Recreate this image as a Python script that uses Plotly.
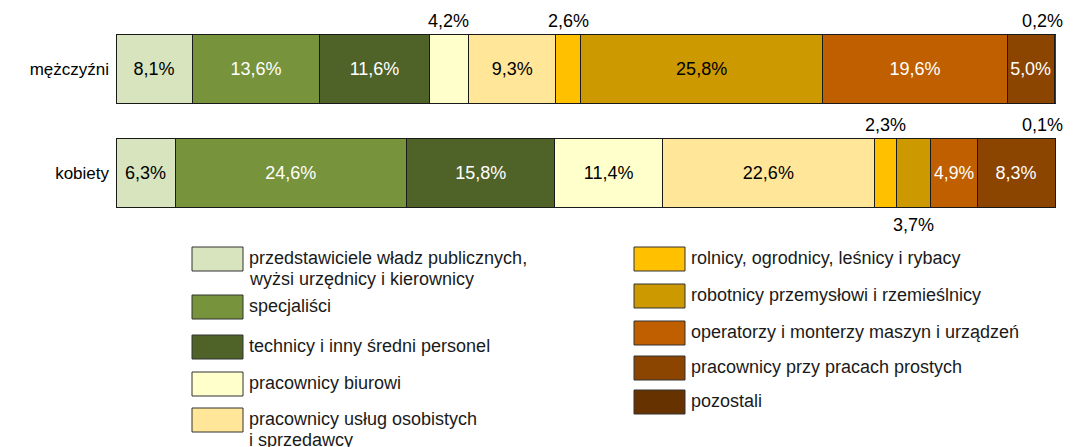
import plotly.graph_objects as go

groups = ["kobiety", "mężczyźni"]
categories = [
    "przedstawiciele władz publicznych,<br>wyżsi urzędnicy i kierownicy",
    "specjaliści",
    "technicy i inny średni personel",
    "pracownicy biurowi",
    "pracownicy usług osobistych<br>i sprzedawcy",
    "rolnicy, ogrodnicy, leśnicy i rybacy",
    "robotnicy przemysłowi i rzemieślnicy",
    "operatorzy i monterzy maszyn i urządzeń",
    "pracownicy przy pracach prostych",
    "pozostali",
]
kobiety = [6.3, 24.6, 15.8, 11.4, 22.6, 2.3, 3.7, 4.9, 8.3, 0.1]
mezczyzni = [8.1, 13.6, 11.6, 4.2, 9.3, 2.6, 25.8, 19.6, 5.0, 0.2]

colors = ["#D7E4BD", "#77933C", "#4F6228", "#FFFFCC", "#FFE699",
          "#FFC000", "#CC9900", "#BF5F00", "#8B4500", "#663300"]
text_colors = ["black", "white", "white", "black", "black",
               "black", "black", "white", "white", "white"]

# labels drawn outside the bar: (group, category index, position)
outside = [("mężczyźni", 3, "above"), ("mężczyźni", 5, "above"), ("mężczyźni", 9, "above"),
           ("kobiety", 5, "above"), ("kobiety", 6, "below"), ("kobiety", 9, "above")]

FONT = "Liberation Sans, Arial, sans-serif"
FS = 18
OFF = 8  # page body margin
W, H = 1076 - OFF, 447 - OFF
# plot area in screen pixels: x 116..1056, y 34..208
L, T = 116 - OFF, 34 - OFF
R = W - (1056 - OFF)
B = H - (208 - OFF)

def fmt(v):
    return f"{v:.1f}".replace(".", ",") + "%"

fig = go.Figure()
vals_by_group = {"kobiety": kobiety, "mężczyźni": mezczyzni}
outside_set = {(g, i) for g, i, _ in outside}
for i, cat in enumerate(categories):
    xs = [vals_by_group[g][i] for g in groups]
    texts = ["" if (g, i) in outside_set else fmt(vals_by_group[g][i]) for g in groups]
    fig.add_trace(go.Bar(
        y=groups, x=xs, orientation="h", name=cat,
        marker=dict(color=colors[i], line=dict(color="#1a1a1a", width=1)),
        text=texts, textposition="inside", insidetextanchor="middle", textangle=0,
        textfont=dict(color=text_colors[i], size=FS, family=FONT),
        width=0.667, showlegend=False, hoverinfo="skip",
    ))

annotations = []
for g, i, pos in outside:
    vals = vals_by_group[g]
    center = sum(vals[:i]) + vals[i] / 2
    last = i == len(vals) - 1
    annotations.append(dict(
        x=sum(vals) if last else center, y=g, xref="x", yref="y",
        text=fmt(vals[i]), showarrow=False,
        xanchor="right" if last else "center",
        yshift=48 if pos == "above" else -52,
        xshift=9 if last else 0,
        font=dict(size=FS, color="black", family=FONT),
    ))

# manual two-column legend (screen pixel positions)
pw, ph = W - L - R, H - T - B
def px(x):
    return (x - OFF - L) / pw
def py(y):
    return (H - B - (y - OFF)) / ph

left_rows = [247, 295, 335, 372, 408]
right_rows = [247, 284, 321, 356, 390]
shapes = []
for i, cat in enumerate(categories):
    if i < 5:
        bx, top = 192, left_rows[i]
    else:
        bx, top = 634, right_rows[i - 5]
    shapes.append(dict(type="rect", xref="paper", yref="paper",
                       x0=px(bx), x1=px(bx + 51), y0=py(top + 24), y1=py(top),
                       fillcolor=colors[i], line=dict(color="#333333", width=1)))
    for k, line in enumerate(cat.split("<br>")):
        annotations.append(dict(
            x=px(bx + 55), y=py(top + 11 + 21 * k), xref="paper", yref="paper",
            xanchor="left", yanchor="middle", align="left", text=line, showarrow=False,
            font=dict(size=FS, color="#1a1a1a", family=FONT),
        ))

fig.update_layout(
    barmode="stack", width=W, height=H,
    margin=dict(l=L, r=R, t=T, b=B, autoexpand=False),
    paper_bgcolor="white", plot_bgcolor="white",
    xaxis=dict(range=[0, 100], visible=False, fixedrange=True, automargin=False),
    yaxis=dict(range=[-0.335, 1.335], categoryorder="array", categoryarray=groups,
               showline=False, showgrid=False, zeroline=False, ticks="", automargin=False,
               tickfont=dict(size=17, color="black", family=FONT), ticklabelstandoff=6),
    annotations=annotations, shapes=shapes,
    font=dict(family=FONT),
)

fig.write_html("out.html")
